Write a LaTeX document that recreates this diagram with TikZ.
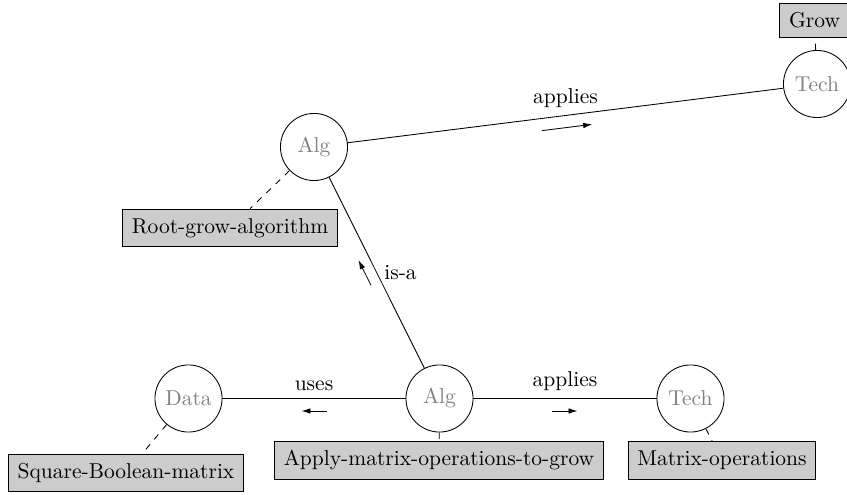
\documentclass[tikz,border=0pt]{standalone}
\usetikzlibrary{calc,arrows.meta}
\begin{document}
\begin{tikzpicture}[x=0.465pt,y=-0.465pt,
  concept/.style={circle,draw,minimum size=31.2pt,inner sep=0pt,text=black!50},
  tag/.style={rectangle,draw,fill=black!20,inner sep=4.3pt},
  note/.style={draw,dashed},
  dirarrow/.style={-{Latex[length=4.2pt,width=2.6pt]}}]
\useasboundingbox (0,0) rectangle (847,495);
% concepts
\node[concept] (algT)  at (314,147)   {Alg};
\node[concept] (techT) at (817,84)    {Tech};
\node[concept] (data)  at (188.5,398.5) {Data};
\node[concept] (algB)  at (439.5,398.5) {Alg};
\node[concept] (techB) at (690.5,398.5) {Tech};
% tags
\node[tag] (grow)   at (814.5,20.5) {Grow};
\node[tag] (root)   at (230,228)    {Root-grow-algorithm};
\node[tag] (sq)     at (126,473)    {Square-Boolean-matrix};
\node[tag] (apply)  at (439,460.5)  {Apply-matrix-operations-to-grow};
\node[tag] (matrix) at (722,460.5)  {Matrix-operations};
% dashed tag links
\path[note] (algT) -- (root);
\path[note] (techT) -- (grow);
\path[note] (data) -- (sq);
\path[note] (algB) -- (apply);
\path[note] (techB) -- (matrix);
% relations
\draw (algT) -- node[above] {applies} (techT);
\draw (algB) -- node[right] {is-a} (algT);
\draw (algB) -- node[above] {uses} (data);
\draw (algB) -- node[above] {applies} (techB);
% direction arrows
\draw[dirarrow] ($(algT)!0.45!(techT)+(1.5,12)$) -- ($(algT)!0.55!(techT)+(1.5,12)$);
\draw[dirarrow] ($(algB)!0.45!(algT)+(-12,0)$) -- ($(algB)!0.55!(algT)+(-12,0)$);
\draw[dirarrow] ($(algB)!0.45!(data)+(0,12.5)$) -- ($(algB)!0.55!(data)+(0,12.5)$);
\draw[dirarrow] ($(algB)!0.45!(techB)+(0,12.5)$) -- ($(algB)!0.55!(techB)+(0,12.5)$);
\end{tikzpicture}
\end{document}
